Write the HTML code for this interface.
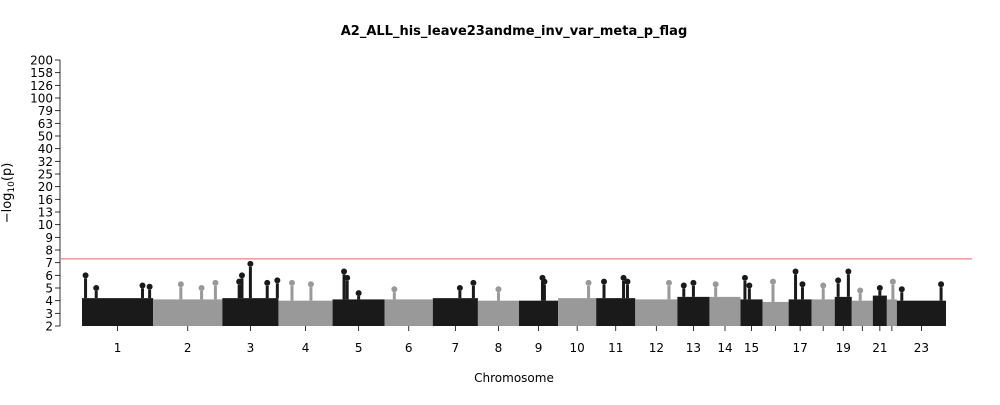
<!DOCTYPE html>
<html><head><meta charset="utf-8"><style>
body{margin:0;background:#fff}
svg{font-family:"DejaVu Sans","Liberation Sans",sans-serif}
</style></head><body>
<svg id="chart" width="1000" height="400">
<text x="514" y="35" text-anchor="middle" font-size="13" font-weight="bold">A2_ALL_his_leave23andme_inv_var_meta_p_flag</text>
<text x="514" y="382" text-anchor="middle" font-size="12">Chromosome</text>
<text transform="translate(11,193) rotate(-90)" text-anchor="middle" font-size="13">−log<tspan font-size="9" dy="3">10</tspan><tspan dy="-3">(p)</tspan></text>
<g id="marks"></g>
<g id="axes"></g>
</svg>
<script>
const yTickLabels=["2","3","4","5","6","7","8","9","10","13","16","20","25","32","40","50","63","79","100","126","158","200"];
const chromosomes=["1","2","3","4","5","6","7","8","9","10","11","12","13","14","15","16","17","18","19","20","21","22","23"];
const chrLengths=[71,69,56,54,52,48,45,41,39,38,39,42,32,31,22,26,23,23,17,21,14,10,49];
const chrBodyTop=[4.2,4.1,4.2,4.0,4.1,4.1,4.2,4.0,4.0,4.2,4.2,4.1,4.3,4.3,4.1,3.9,4.1,4.1,4.3,4.0,4.4,4.1,4.0];
const chrShown=[1,1,1,1,1,1,1,1,1,1,1,1,1,1,1,0,1,0,1,0,1,0,1];
const peakChr=[0,0,0,0,1,1,1,2,2,2,2,2,3,3,4,4,4,5,6,6,7,8,8,9,10,10,10,11,12,12,13,14,14,15,16,16,17,18,18,19,20,21,22,22];
const peakPos=[0.05,0.2,0.85,0.95,0.7,0.9,0.4,0.3,0.35,0.5,0.8,0.98,0.25,0.6,0.22,0.28,0.5,0.2,0.6,0.9,0.5,0.6,0.65,0.8,0.2,0.7,0.8,0.8,0.2,0.5,0.2,0.2,0.4,0.4,0.3,0.6,0.5,0.2,0.8,0.4,0.5,0.6,0.1,0.9];
const peakVal=[6.0,5.0,5.2,5.1,5.0,5.4,5.3,5.5,6.0,6.9,5.4,5.6,5.4,5.3,6.3,5.8,4.6,4.9,5.0,5.4,4.9,5.8,5.5,5.4,5.5,5.8,5.5,5.4,5.2,5.4,5.3,5.8,5.2,5.5,6.3,5.3,5.2,5.6,6.3,4.8,5.0,5.5,4.9,5.3];

const NS="http://www.w3.org/2000/svg";
const X0=82,X1=946,Y0=326,Y1=60;
const totalLen=chrLengths.reduce((a,b)=>a+b,0);
function chrStartX(i){let s=0;for(let k=0;k<i;k++)s+=chrLengths[k];return X0+s/totalLen*(X1-X0);}
function chrWidth(i){return chrLengths[i]/totalLen*(X1-X0);}
function yScale(v){
  const step=(Y0-Y1)/(yTickLabels.length-1);
  if(v<=10) return Y0-(v-2)*step;
  const nums=yTickLabels.map(Number);
  for(let k=8;k<nums.length-1;k++){if(v<=nums[k+1]){return Y0-(k+(v-nums[k])/(nums[k+1]-nums[k]))*step;}}
  return Y1;
}
function mk(tag,attrs,parent){const e=document.createElementNS(NS,tag);for(const k in attrs)e.setAttribute(k,attrs[k]);parent.appendChild(e);return e;}
const marks=document.getElementById('marks'),axes=document.getElementById('axes');
chromosomes.forEach((c,i)=>{
  const col=i%2===0?'#1a1a1a':'#999999';
  const r=mk('rect',{x:chrStartX(i),y:yScale(chrBodyTop[i]),width:chrWidth(i),height:Y0-yScale(chrBodyTop[i]),fill:col},marks);
  
  
  const t=mk('line',{x1:chrStartX(i)+chrWidth(i)/2,x2:chrStartX(i)+chrWidth(i)/2,y1:Y0,y2:Y0+5,stroke:'#000','stroke-width':0.8},axes);
  
  
  if(chrShown[i]){const l=mk('text',{x:chrStartX(i)+chrWidth(i)/2,y:Y0+26,'text-anchor':'middle','font-size':12},axes);l.textContent=c;
  
  }
});
peakChr.forEach((ci,k)=>{
  const col=ci%2===0?'#1a1a1a':'#999999';
  const x=chrStartX(ci)+peakPos[k]*chrWidth(ci);
  const yv=yScale(peakVal[k]),yb=yScale(chrBodyTop[ci]);
  const stem=mk('rect',{x:x-1.5,y:yv+3,width:3,height:Math.max(0,yb-yv-3),fill:col},marks);
  
  
  const dot=mk('circle',{cx:x,cy:yv,r:3,fill:col},marks);
  
  
});
const ax=mk('line',{x1:X0-22,x2:X0-22,y1:Y1,y2:Y0,stroke:'#000','stroke-width':0.8},axes);


yTickLabels.forEach((lab,k)=>{
  const y=yScale(Number(lab));
  const t=mk('line',{x1:X0-27,x2:X0-22,y1:y,y2:y,stroke:'#000','stroke-width':0.8},axes);
  
  
  const tx=mk('text',{x:X0-29,y:y+4.5,'text-anchor':'end','font-size':12},axes);tx.textContent=lab;
  
  
});
const th=mk('line',{x1:X0-22,x2:972,y1:yScale(7.3),y2:yScale(7.3),stroke:'#f08080','stroke-width':1.3},axes);


</script>
</body></html>
